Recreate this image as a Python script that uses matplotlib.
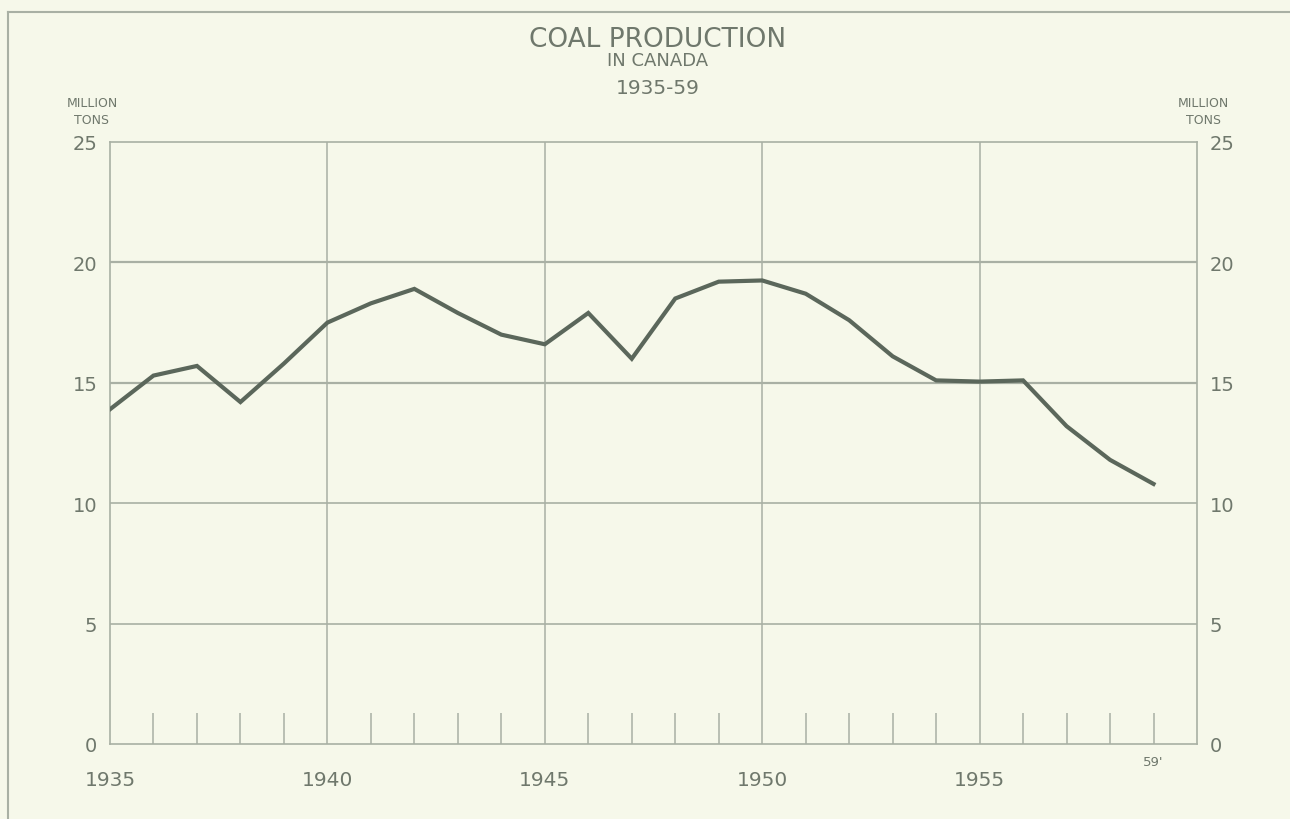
import matplotlib.pyplot as plt
from matplotlib.lines import Line2D
from matplotlib.ticker import FixedLocator, FixedFormatter

# coal production, million tons
years = list(range(1935, 1960))
production = [13.9, 15.3, 15.7, 14.2, 15.8, 17.5, 18.3, 18.9, 17.9, 17.0,
              16.6, 17.9, 16.0, 18.5, 19.2, 19.25, 18.7, 17.6, 16.1, 15.1,
              15.05, 15.1, 13.2, 11.8, 10.8]

y_ticks = [0, 5, 10, 15, 20, 25]
y_labels = ['0', '5', '10', '15', '20', '25']
x_major = [1935, 1940, 1945, 1950, 1955]
x_major_labels = ['1935', '1940', '1945', '1950', '1955']
x_minor = [y for y in years if y % 5 != 0]
x_minor_labels = ["59'" if y == 1959 else '' for y in x_minor]

bg = '#f6f8ea'
ink = '#5b675b'
grid_col = '#a9b0a4'
txt = '#6f786c'

plt.rcParams['font.family'] = ['DejaVu Sans']

fig = plt.figure(figsize=(12.9, 8.2), dpi=100, facecolor=bg)
W, H = 1290, 820
ax = fig.add_axes([110 / W, (H - 745) / H, (1197 - 110) / W, (745 - 143) / H])
ax.set_facecolor(bg)

ax.plot(years, production, color=ink, lw=3.0, solid_joinstyle='miter', zorder=3)

ax.set_xlim(1935, 1960)
ax.set_ylim(0, 25)

for v in [5, 10, 15, 20]:
    ax.axhline(v, color=grid_col, lw=1.6 if v >= 15 else 1.2, zorder=1)
for v in [1940, 1945, 1950, 1955]:
    ax.axvline(v, color=grid_col, lw=1.1, zorder=1)

for s in ax.spines.values():
    s.set_color(grid_col)
    s.set_linewidth(1.2)

ax.set_yticks(y_ticks)
ax.set_yticklabels(y_labels)
ax.tick_params(axis='y', length=0, labelsize=14, labelcolor=txt, pad=6,
               labelright=True)

ax.xaxis.set_major_locator(FixedLocator(x_major))
ax.xaxis.set_major_formatter(FixedFormatter(x_major_labels))
ax.xaxis.set_minor_locator(FixedLocator(x_minor))
ax.xaxis.set_minor_formatter(FixedFormatter(x_minor_labels))
ax.tick_params(axis='x', which='major', direction='in', length=0,
               labelsize=14.5, labelcolor=txt, pad=19)
ax.tick_params(axis='x', which='minor', direction='in', length=22,
               width=1.1, color=grid_col, labelsize=9.5, labelcolor=txt, pad=8)

# right-side labels a bit further from the axis
ax.yaxis.set_tick_params(which='major', pad=9)

fig.text(0.51, 1 - 40 / H, 'COAL PRODUCTION', ha='center', va='center',
         fontsize=19, color=txt)
fig.text(0.51, 1 - 61 / H, 'IN CANADA', ha='center', va='center',
         fontsize=13, color=txt)
fig.text(0.51, 1 - 89 / H, '1935-59', ha='center', va='center',
         fontsize=14.5, color=txt)
fig.text(92 / W, 1 - 112 / H, 'MILLION\nTONS', ha='center', va='center',
         fontsize=9, color=txt, linespacing=1.45)
fig.text(1203 / W, 1 - 112 / H, 'MILLION\nTONS', ha='center', va='center',
         fontsize=9, color=txt, linespacing=1.45)

# outer frame of the page
fig.add_artist(Line2D([8 / W, 1.0], [1 - 13 / H, 1 - 13 / H],
                      transform=fig.transFigure, color=grid_col, lw=1.5))
fig.add_artist(Line2D([8 / W, 8 / W], [0.0, 1 - 13 / H],
                      transform=fig.transFigure, color=grid_col, lw=1.5))

fig.savefig('out.png', dpi=100, facecolor=bg)
